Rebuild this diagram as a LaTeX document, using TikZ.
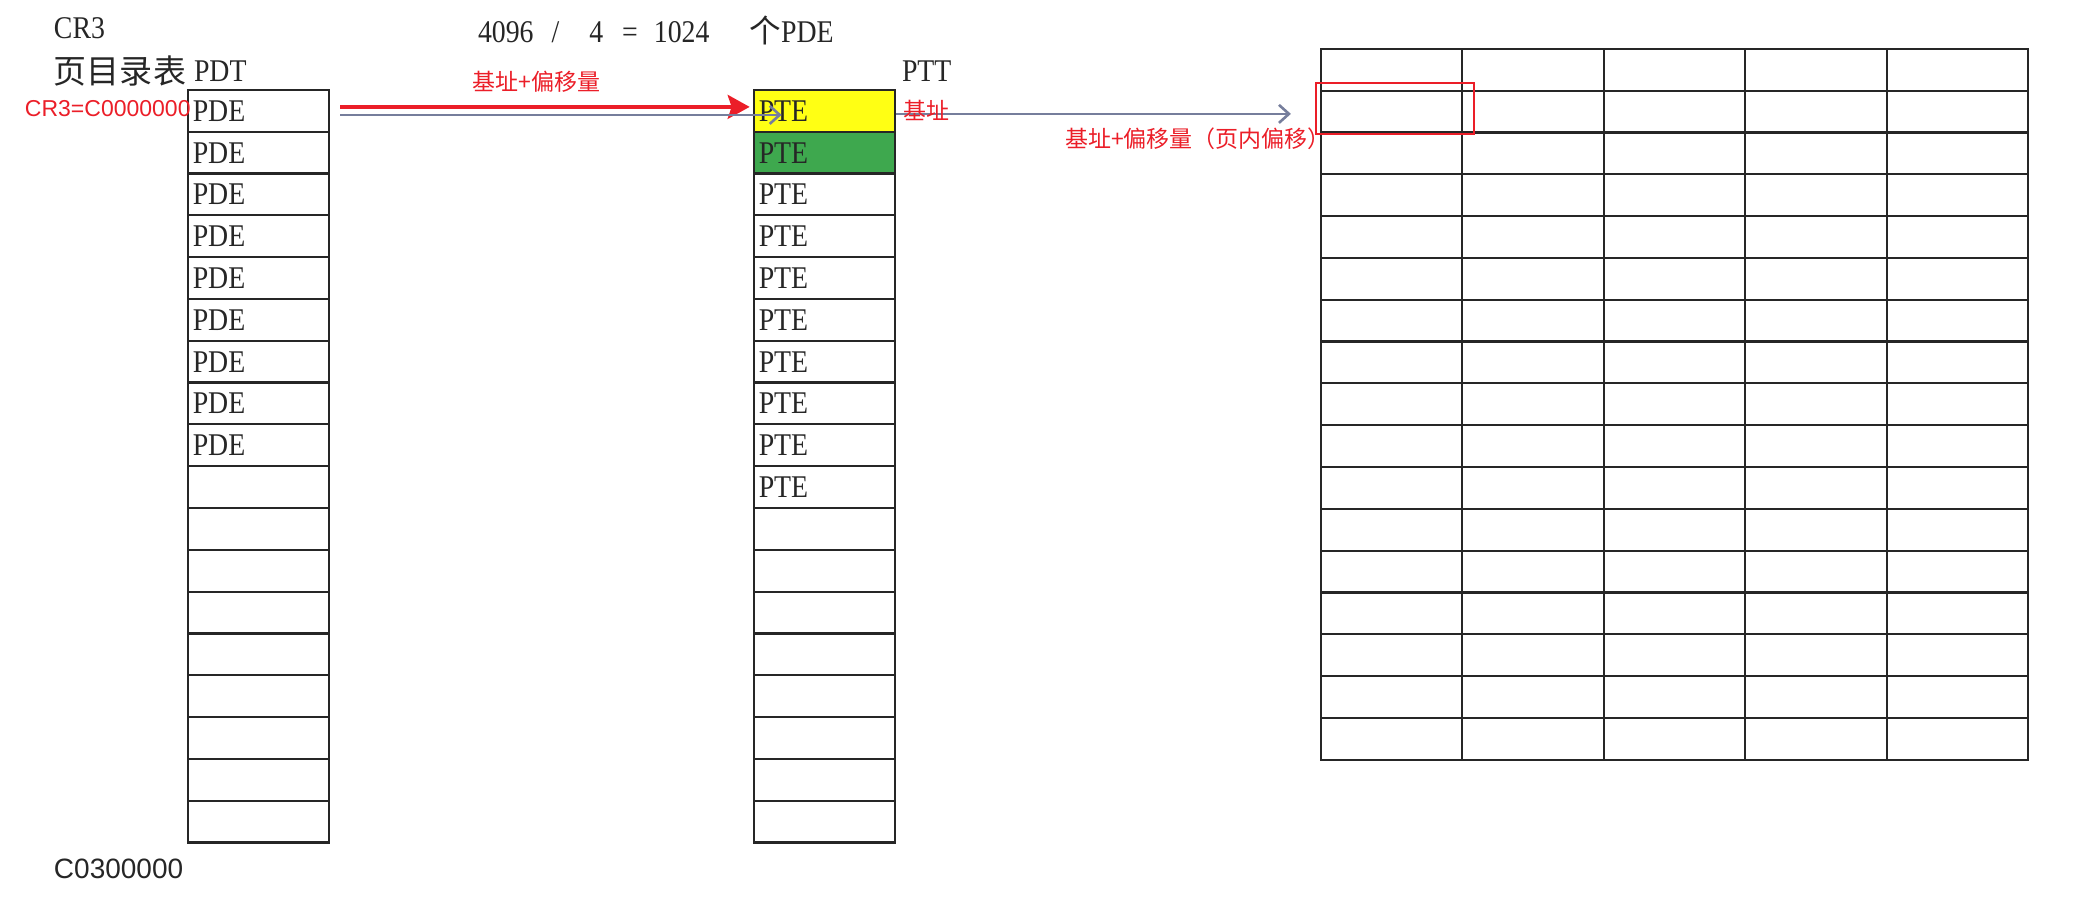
\documentclass[tikz,border=0pt]{standalone}
\usepackage{fontspec}
\setmainfont{Liberation Serif}[FakeStretch=0.88]
\newfontfamily\cjkfont{Noto Sans CJK SC}
\newfontfamily\arialfont{Liberation Sans}
\usetikzlibrary{arrows.meta,calc}

\definecolor{markred}{RGB}{235,30,40}
\definecolor{linkgray}{RGB}{118,126,156}
\definecolor{rowyellow}{RGB}{255,255,20}
\definecolor{rowgreen}{RGB}{62,168,78}

\tikzset{every picture/.style={line width=1pt}}
\tikzset{
  entry/.style={draw=black!85, line width=1.1pt, minimum width=70.75pt, minimum height=20.9pt,
    inner xsep=2.5pt, inner ysep=0pt, text width=65.75pt, align=left,
    font=\fontsize{15.8pt}{18pt}\selectfont, text=black!85},
  pagecell/.style={draw=black!85, line width=1.1pt, minimum width=70.75pt, minimum height=20.9pt, inner sep=0pt},
  txt/.style={inner sep=0pt, anchor=west, text=black!85, font=\fontsize{15.8pt}{18pt}\selectfont},
  redtxt/.style={inner sep=0pt, anchor=west, text=markred, font=\cjkfont\fontsize{11.5pt}{14pt}\selectfont},
}

\begin{document}
\begin{tikzpicture}[x=0.5pt,y=0.5pt,yscale=-1,xscale=1]
\useasboundingbox (0,0) rectangle (2077,914);

% PDT table
\foreach \i in {1,...,18}
  \node[entry] (pde\i) at (258.5,{90+41.8*(\i-0.5)}) {\ifnum\i<10 PDE\fi};

% PTT table
\node[entry, fill=rowyellow] (pte1) at (824.5,110.9) {PTE};
\node[entry, fill=rowgreen] (pte2) at (824.5,152.7) {PTE};
\foreach \i in {3,...,18}
  \node[entry] (pte\i) at (824.5,{90+41.8*(\i-0.5)}) {\ifnum\i<11 PTE\fi};

% page
\foreach \r in {1,...,17}
  \foreach \c in {1,...,5}
    \node[pagecell] (pgr\r c\c) at ({1320.6+141.5*(\c-0.5)},{49+41.8*(\r-0.5)}) {};

%Rectangle: page offset
\draw[markred, line width=1.1pt] ($(pgr2c1.north west)+(-3.6,-6.7)$) rectangle ($(pgr2c1.south east)+(11,0.5)$);

% Text Node
\node[txt] (cr3) at (53,28) {CR3};
% Text Node
\node[txt] (count) at (477,30.5) {4096\hspace{9pt}/\hspace{15pt}4\hspace{9.5pt}=\hspace{8pt}1024\hspace{20pt}{\cjkfont 个}PDE};
% Text Node
\node[txt, font=\cjkfont\fontsize{16.5pt}{18pt}\selectfont] (pdtname) at (53,71.5) {页目录表};
% Text Node
\node[txt] (pdt) at (193,71.5) {PDT};
% Text Node
\node[txt] (ptt) at (901,71.5) {PTT};
% Text Node
\node[txt, font=\arialfont\fontsize{14pt}{16pt}\selectfont] (pdtend) at (53,869) {C0300000};
% Text Node
\node[redtxt, font=\arialfont\fontsize{11.5pt}{14pt}\selectfont] (cr3val) at (24,108.6) {CR3=C0000000};
% Text Node
\node[redtxt] (offs) at (471.5,82) {基址+偏移量};

%Arrows
\draw[markred, line width=1.7pt, -{Stealth[length=11pt,width=12pt,inset=2pt]}, shorten <=5pt, shorten >=1.5pt]
  ([yshift=-2pt]pde1.east) -- ([yshift=-2pt]pte1.west);
\draw[linkgray, line width=1.3pt, -{Straight Barb[length=5pt,width=9pt]}, shorten <=5pt]
  ([yshift=2pt]pde1.east) -- ([xshift=14.5pt,yshift=2pt]pte1.west);
\coordinate (base) at ([yshift=1.5pt]pte1.east);
\draw[linkgray, line width=1.3pt, -{Straight Barb[length=5pt,width=9pt]}, shorten >=14.3pt]
  (base) -- (base -| pgr2c1.west);

% Text Node
\node[redtxt] (baselbl) at (902,110) {基址};
% Text Node
\node[redtxt] (pageoffs) at (1064,139) {基址+偏移量（页内偏移）};

\end{tikzpicture}
\end{document}
